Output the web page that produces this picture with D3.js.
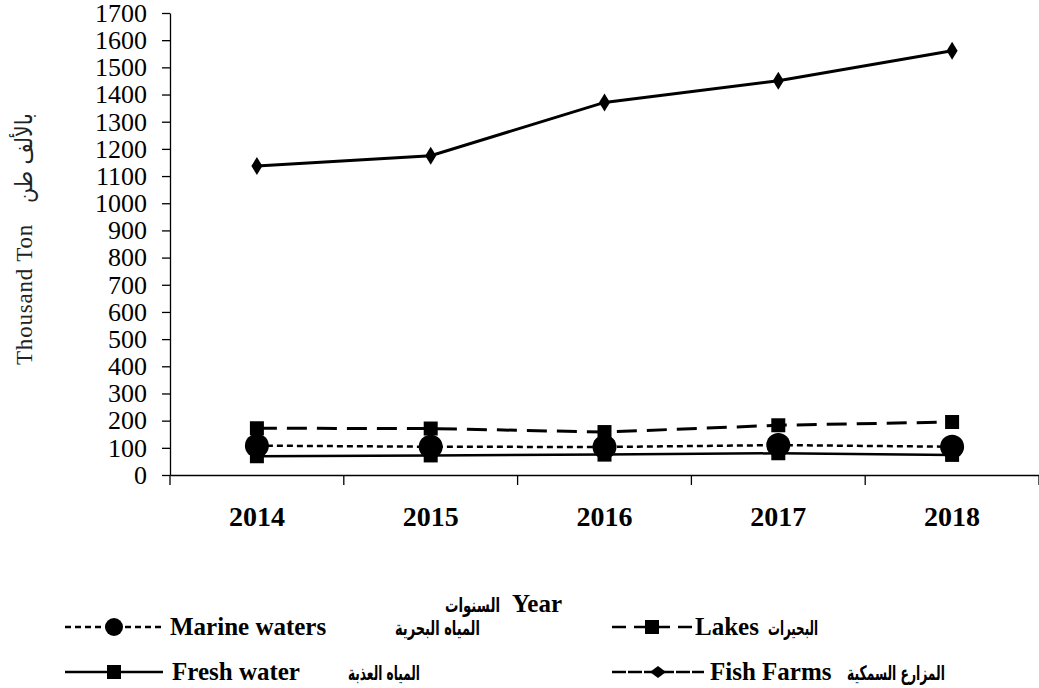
<!DOCTYPE html>
<html>
<head>
<meta charset="utf-8">
<script src="https://cdn.jsdelivr.net/npm/d3@7"></script>
<style>
  body { margin: 0; background: #fff; }
  text { font-family: "Liberation Serif", "DejaVu Serif", serif; }
  text.ar { font-family: "DejaVu Sans", sans-serif; }
</style>
</head>
<body>
<svg width="1039" height="688"></svg>
<script>
var years = ["2014", "2015", "2016", "2017", "2018"];
var fishFarms = [1137, 1175, 1371, 1451, 1561];
var lakes = [172, 171, 158, 183, 195];
var marine = [108, 104, 103, 110, 104];
var fresh = [69, 72, 75, 80, 74];
var yTicks = d3.range(0, 1701, 100);

var svg = d3.select("svg"),
    margin = {top: 13, right: 0, bottom: 213, left: 170},
    width = +svg.attr("width") - margin.left - margin.right,
    height = +svg.attr("height") - margin.top - margin.bottom,
    g = svg.append("g").attr("transform", "translate(" + margin.left + "," + margin.top + ")");

var x = d3.scaleBand().domain(years).range([0, width]);
var y = d3.scaleLinear().domain([0, 1700]).range([height, 0]);

// axes
var yAxis = g.append("g")
    .call(d3.axisLeft(y).tickValues(yTicks).tickFormat(d3.format("d"))
      .tickSize(8).tickSizeOuter(0).tickPadding(15));
yAxis.attr("font-family", null);
yAxis.select(".domain").attr("stroke", "#000").attr("stroke-width", 1.3);
yAxis.selectAll(".tick line").attr("stroke-width", 1.3);
yAxis.selectAll("text").attr("font-size", 26).attr("fill", "#000")
    .style("font-family", "'Liberation Serif', serif");

var xAxis = g.append("g")
    .attr("transform", "translate(0," + height + ")")
    .call(d3.axisBottom(x).tickSize(0).tickPadding(31));
xAxis.attr("font-family", null);
xAxis.select(".domain").attr("stroke", "#000").attr("stroke-width", 1.3);
xAxis.selectAll("text").attr("font-size", 28).attr("font-weight", "bold").attr("fill", "#000")
    .style("font-family", "'Liberation Serif', serif");
// ticks at category boundaries
g.append("g").selectAll("line")
    .data(years.concat(["end"]))
  .enter().append("line")
    .attr("x1", function(d, i) { return i * x.step(); })
    .attr("x2", function(d, i) { return i * x.step(); })
    .attr("y1", height).attr("y2", height + 10)
    .attr("stroke", "#000").attr("stroke-width", 1.3);

var line = d3.line()
    .x(function(d, i) { return x(years[i]) + x.bandwidth() / 2; })
    .y(function(d) { return y(d); });

var series = [
  {name: "fish", data: fishFarms, dash: null, width: 3, shape: "diamond"},
  {name: "lakes", data: lakes, dash: "20,10", width: 3, shape: "square"},
  {name: "fresh", data: fresh, dash: null, width: 2.5, shape: "square"},
  {name: "marine", data: marine, dash: "6,4", width: 2.5, shape: "circle"}
];

function drawMarker(sel, shape) {
  if (shape == "circle") {
    sel.append("circle").attr("r", 12).attr("fill", "#000");
  } else if (shape == "square") {
    sel.append("rect").attr("x", -7).attr("y", -7).attr("width", 14).attr("height", 14).attr("fill", "#000");
  } else {
    sel.append("path").attr("d", "M0,-9L5.5,0L0,9L-5.5,0Z").attr("fill", "#000");
  }
}

series.forEach(function(s) {
  g.append("path")
      .datum(s.data)
      .attr("fill", "none")
      .attr("stroke", "#000")
      .attr("stroke-width", s.width)
      .attr("stroke-dasharray", s.dash)
      .attr("d", line);
});
series.forEach(function(s) {
  g.append("g").selectAll("g")
      .data(s.data)
    .enter().append("g")
      .attr("transform", function(d, i) {
        return "translate(" + (x(years[i]) + x.bandwidth() / 2) + "," + y(d) + ")";
      })
      .each(function() { drawMarker(d3.select(this), s.shape); });
});

// arabic text squeezed to a given width (the reference uses a narrow naskh face)
function arabic(parent, str, size, w, transform) {
  var gg = parent.append("g");
  var t = gg.append("text").attr("class", "ar")
      .attr("font-size", size).attr("font-weight", "bold").text(str);
  var sx = w / t.node().getComputedTextLength();
  gg.attr("transform", transform + " scale(" + sx + ",1)");
  return t;
}

// axis titles (rotated, read bottom to top)
svg.append("text")
    .attr("transform", "translate(32,365) rotate(-90)")
    .attr("font-size", 23)
    .attr("letter-spacing", 0.8)
    .attr("fill", "#222")
    .text("Thousand  Ton");
arabic(svg, "بالألف طن", 24, 108, "translate(32,203) rotate(-90)")
    .attr("font-weight", "normal").attr("fill", "#222");

arabic(svg, "السنوات", 20, 55, "translate(445,612)");
svg.append("text")
    .attr("x", 512).attr("y", 612)
    .attr("font-weight", "bold")
    .attr("font-size", 25)
    .text("Year");

// legend
var legend = [
  {label: "Marine waters", ar: "المياه البحرية", x: 65, y: 635, w: 98, dash: "6,4", shape: "circle", tx: 170, ax: 395, aw: 85},
  {label: "Lakes", ar: "البحيرات", x: 612, y: 635, w: 80, dash: "14,8", shape: "square", tx: 695, ax: 768, aw: 50},
  {label: "Fresh water", ar: "المياه العذبة", x: 65, y: 680, w: 98, dash: null, shape: "square", tx: 172, ax: 348, aw: 72},
  {label: "Fish Farms", ar: "المزارع السمكية", x: 612, y: 680, w: 92, dash: "14,2", shape: "diamond", tx: 710, ax: 847, aw: 98}
];
legend.forEach(function(l) {
  var lg = svg.append("g");
  lg.append("line")
      .attr("x1", l.x).attr("x2", l.x + l.w)
      .attr("y1", l.y - 8).attr("y2", l.y - 8)
      .attr("stroke", "#000").attr("stroke-width", 2.5)
      .attr("stroke-dasharray", l.dash);
  var m = lg.append("g").attr("transform", "translate(" + (l.x + l.w / 2) + "," + (l.y - 8) + ")");
  if (l.shape == "circle") m.append("circle").attr("r", 9).attr("fill", "#000");
  else if (l.shape == "square") m.append("rect").attr("x", -7).attr("y", -7).attr("width", 14).attr("height", 14).attr("fill", "#000");
  else m.append("path").attr("d", "M0,-6L8,0L0,6L-8,0Z").attr("fill", "#000");
  lg.append("text").attr("x", l.tx).attr("y", l.y)
      .attr("font-size", 25).attr("font-weight", "bold").text(l.label);
  arabic(lg, l.ar, 20, l.aw, "translate(" + l.ax + "," + l.y + ")");
});
</script>
</body>
</html>
